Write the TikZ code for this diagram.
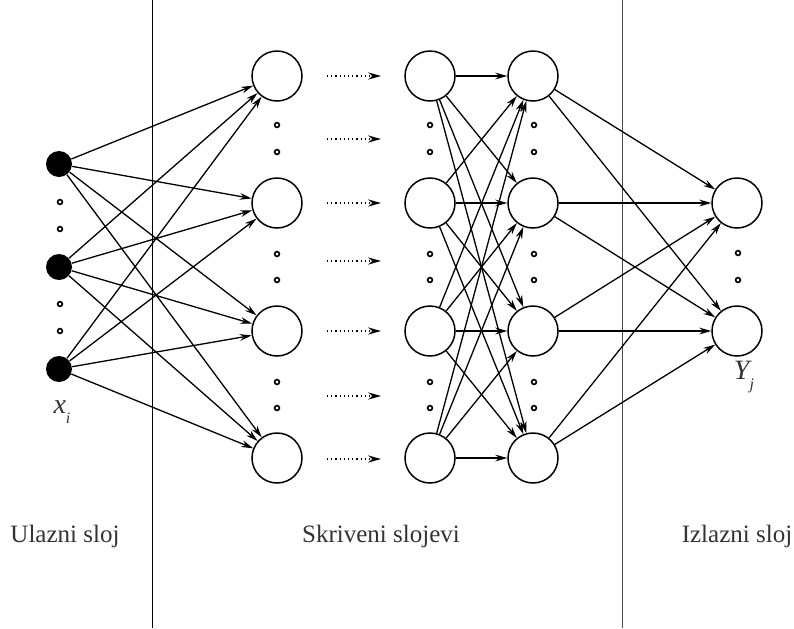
\documentclass[tikz,border=0pt]{standalone}
\usepackage{fontspec}
\setmainfont{Liberation Serif}
\usepackage{tikz}
\usetikzlibrary{arrows.meta,shapes}

\tikzset{
  inp/.style={circle, fill=black, minimum size=13pt, inner sep=0pt},
  neur/.style={circle, draw, line width=0.75pt, minimum size=25pt, inner sep=0pt},
  conn/.style={-{Stealth[length=6pt,width=3.4pt,inset=2pt]}, line width=0.65pt},
  dotarr/.style={-{Stealth[length=6.5pt,width=3.6pt,inset=2.2pt]}, line width=0.6pt,
    dash pattern=on 0.6pt off 1.5pt},
  ring/.style={line width=0.8pt},
  lbl/.style={text=black!80, font=\fontsize{12.5}{15}\selectfont}
}

\begin{document}
\begin{tikzpicture}[x=0.5pt,y=-0.5pt]
\useasboundingbox (0,0) rectangle (794,628);

% layer separators
\draw[line width=0.5pt] (152,0) -- (152,628);
\draw[line width=0.5pt, black!70] (622,0) -- (622,628);

% input layer
\node[inp] (i1) at (59,164) {};
\node[inp] (i2) at (59,267) {};
\node[inp] (i3) at (59,369) {};

% hidden layers
\foreach \n/\y in {1/76,2/203,3/331,4/458} {
  \node[neur] (p\n) at (277,\y) {};
  \node[neur] (q\n) at (430,\y) {};
  \node[neur] (r\n) at (533,\y) {};
}

% output layer
\node[neur] (y1) at (737,203) {};
\node[neur] (y2) at (737,331) {};

% connections
\foreach \a in {1,2,3} \foreach \b in {1,...,4} \draw[conn] (i\a) -- (p\b);
\foreach \a in {1,...,4} \foreach \b in {1,...,4} \draw[conn] (q\a) -- (r\b);
\foreach \a in {1,...,4} \foreach \b in {1,2} \draw[conn] (r\a) -- (y\b);

% dotted arrows between hidden layers
\foreach \n/\y in {1/76,2/139,3/203,4/261,5/331,6/396,7/459} {
  \coordinate (da\n) at (327,\y);
  \coordinate (db\n) at (381,\y);
  \draw[dotarr] (da\n) -- (db\n);
}

% small dots
\foreach \y in {202,229,304,331} \draw[ring] (60,\y) circle (1.2pt);
\foreach \x in {277,430,534}
  \foreach \y in {125,152,254,280,382,408} \draw[ring] (\x,\y) circle (1.2pt);
\foreach \y in {253,280} \draw[ring] (738,\y) circle (1.2pt);

% labels
\node[lbl, font=\fontsize{14}{16}\selectfont] (xi) at (62,412)
  {\itshape x\raisebox{-5pt}{\fontsize{8}{8}\selectfont i}};
\node[lbl, font=\fontsize{14}{16}\selectfont] (yj) at (744,377)
  {\itshape Y\raisebox{-5pt}{\fontsize{8}{8}\selectfont j}};

\node[lbl, anchor=base] (t1) at (65,542) {Ulazni sloj};
\node[lbl, anchor=base] (t2) at (381,542) {Skriveni slojevi};
\node[lbl, anchor=base] (t3) at (737,542) {Izlazni sloj};

\end{tikzpicture}
\end{document}
